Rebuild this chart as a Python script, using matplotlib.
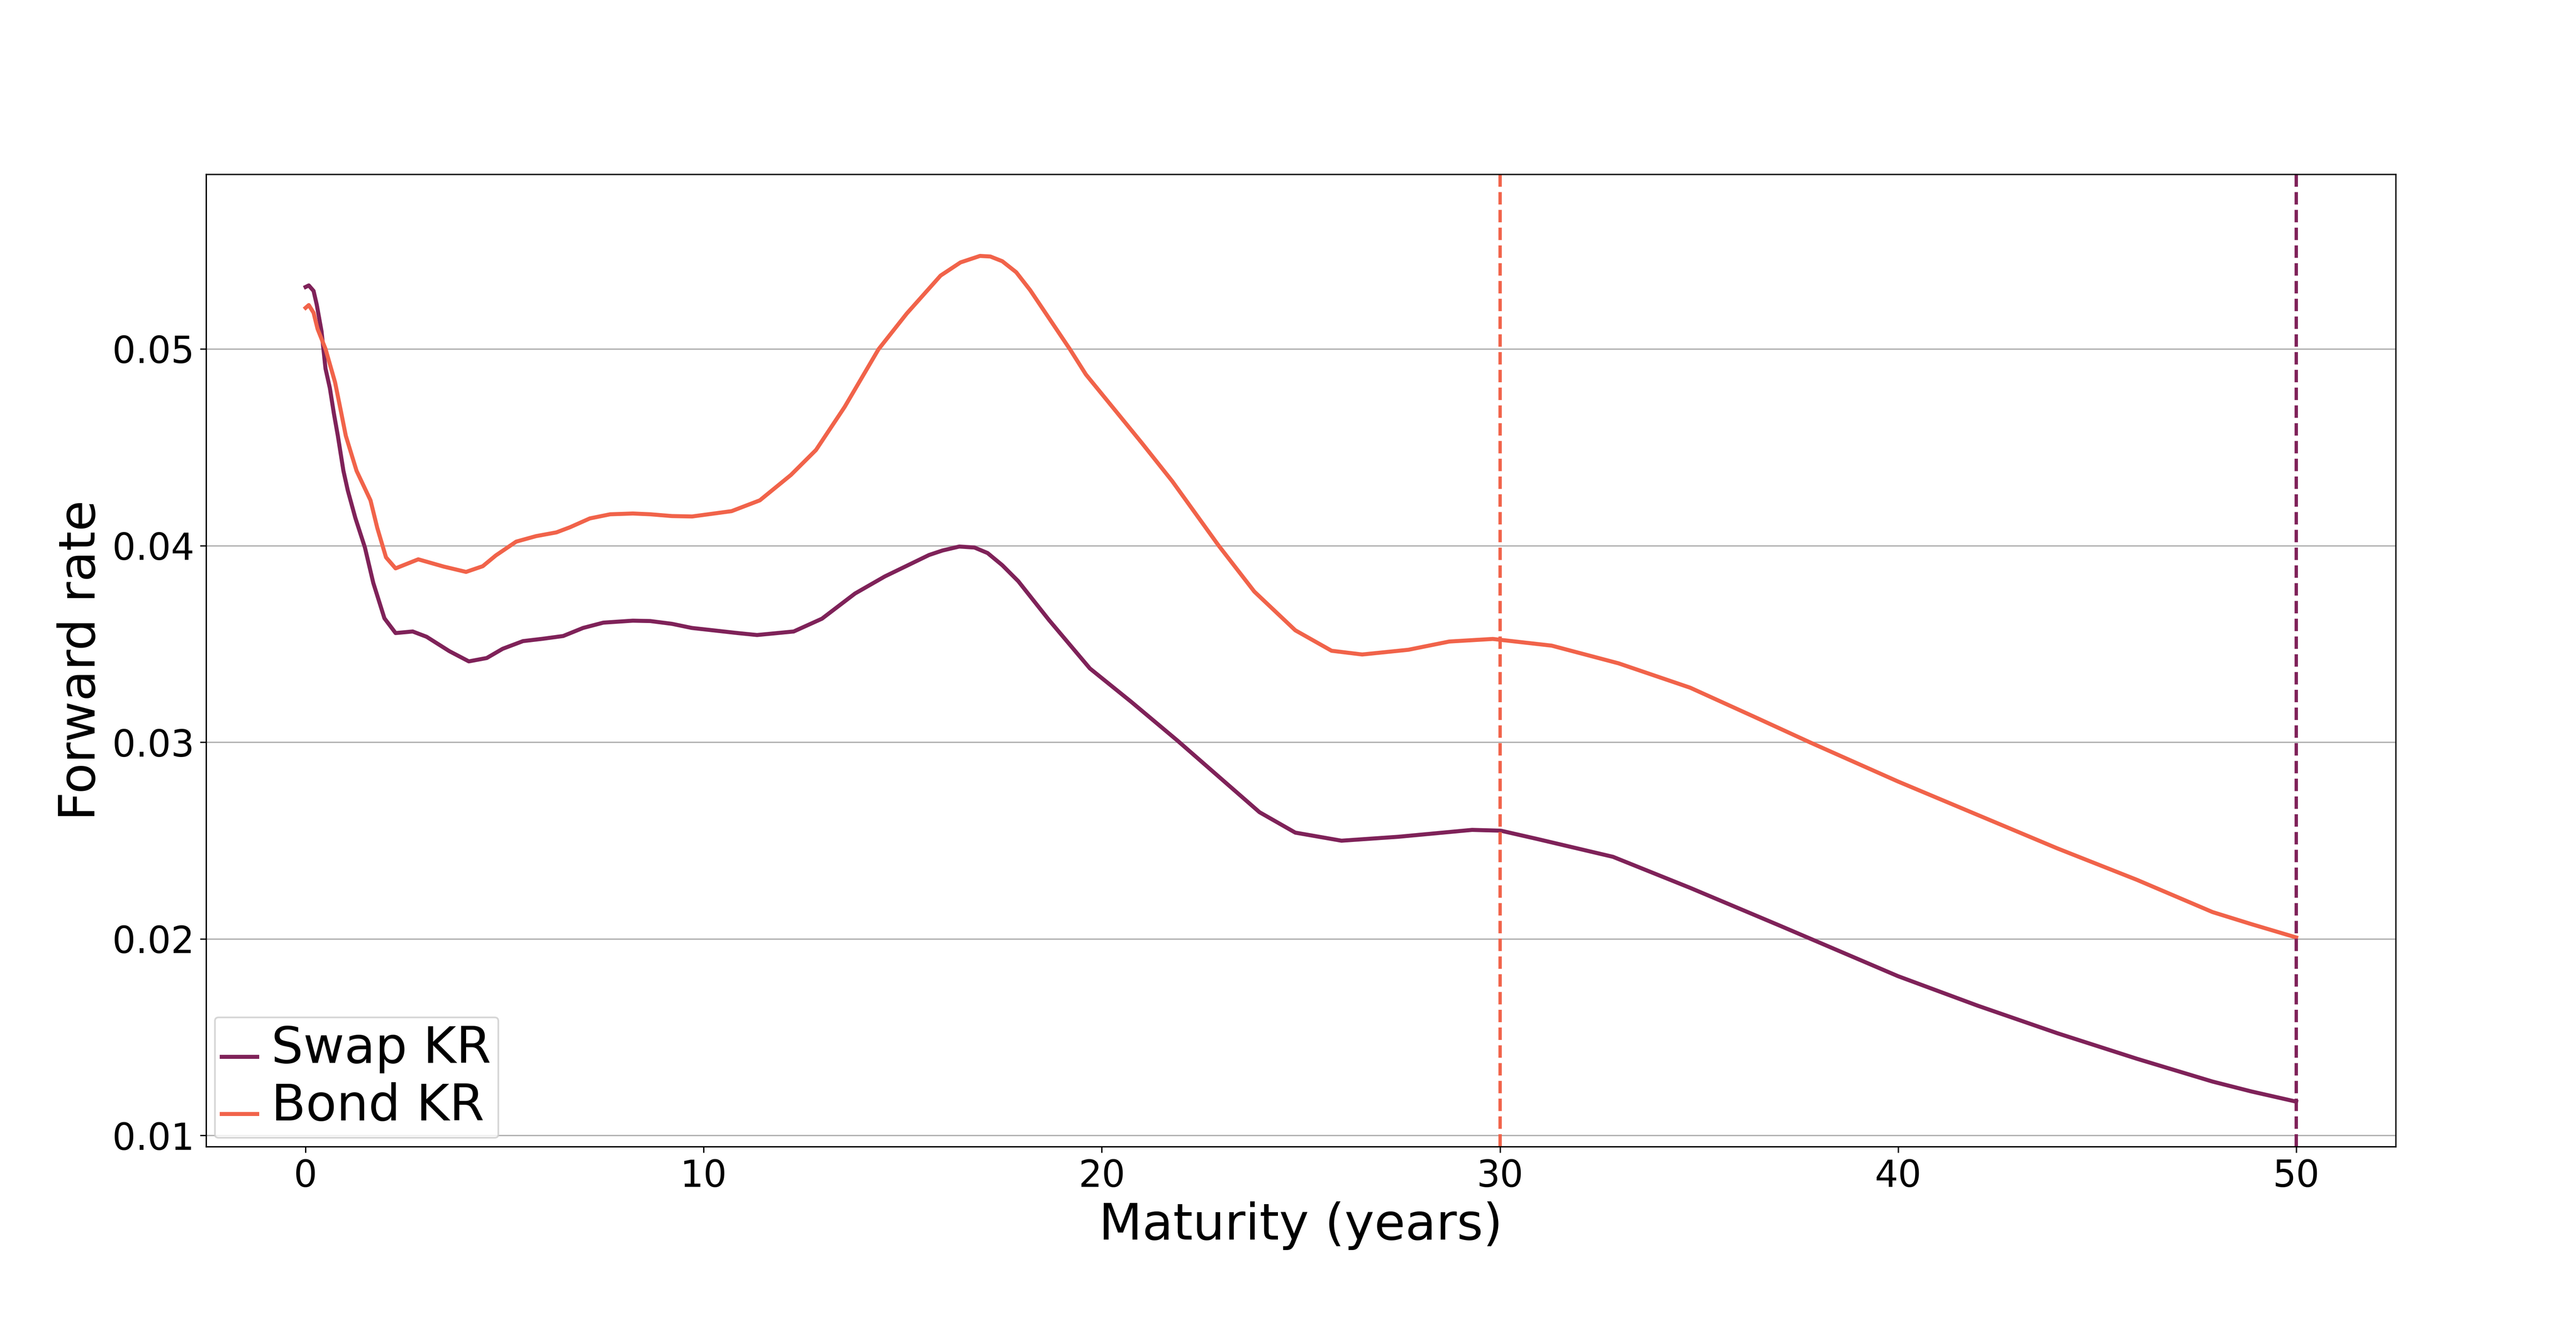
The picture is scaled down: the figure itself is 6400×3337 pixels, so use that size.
import matplotlib
matplotlib.use("Agg")
import matplotlib.pyplot as plt

swap_maturity = [0.0, 0.08, 0.2, 0.28, 0.4, 0.5, 0.61, 0.71, 0.81, 0.95, 1.06, 1.25, 1.49, 1.7,
                 1.98, 2.26, 2.69, 3.04, 3.61, 4.1, 4.55, 4.95, 5.46, 5.96, 6.47, 6.97, 7.48,
                 8.22, 8.66, 9.2, 9.7, 10.85, 11.34, 12.26, 12.97, 13.8, 14.55, 15.66, 16.0,
                 16.42, 16.8, 17.13, 17.5, 17.9, 18.67, 19.7, 20.74, 21.9, 22.93, 23.96, 24.86,
                 26.02, 27.45, 29.3, 30.02, 30.91, 32.84, 34.78, 37.03, 40.0, 42.0, 44.0, 46.0,
                 47.9, 48.87, 50.0]
swap_rate = [0.05315, 0.05323, 0.05295, 0.05225, 0.0509, 0.0490, 0.0480, 0.04672, 0.04558,
             0.0438, 0.0428, 0.0414, 0.0399, 0.0381, 0.0363, 0.03555, 0.03563, 0.03536,
             0.03463, 0.03411, 0.03428, 0.03475, 0.03514, 0.03526, 0.0354, 0.03581, 0.03608,
             0.03618, 0.03616, 0.03602, 0.03581, 0.03555, 0.03545, 0.03563, 0.03628, 0.03756,
             0.03843, 0.03952, 0.03975, 0.03995, 0.0399, 0.03962, 0.03900, 0.03819, 0.03622,
             0.03375, 0.03205, 0.03008, 0.02826, 0.02644, 0.0254, 0.02499, 0.02519, 0.02554,
             0.0255, 0.02509, 0.02417, 0.02259, 0.02067, 0.0181, 0.0166, 0.0152, 0.0139,
             0.01274, 0.01224, 0.01172]

bond_maturity = [0.0, 0.08, 0.2, 0.3, 0.5, 0.74, 0.88, 1.01, 1.28, 1.63, 1.8, 2.02, 2.26, 2.83,
                 3.47, 4.03, 4.45, 4.78, 5.29, 5.79, 6.3, 6.64, 7.14, 7.65, 8.22, 8.66, 9.2,
                 9.71, 10.7, 11.41, 12.19, 12.82, 13.54, 14.39, 15.1, 15.95, 16.45, 16.94, 17.2,
                 17.5, 17.85, 18.2, 19.2, 19.6, 21.0, 21.77, 22.93, 23.83, 24.86, 25.77, 26.54,
                 27.7, 28.73, 29.82, 31.3, 32.98, 34.78, 36.39, 37.8, 40.0, 42.0, 44.0, 46.0,
                 47.9, 48.87, 50.0]
bond_rate = [0.05209, 0.05223, 0.05184, 0.05102, 0.0500, 0.0483, 0.0469, 0.04558, 0.0438,
             0.0423, 0.0409, 0.0394, 0.03884, 0.0393, 0.03893, 0.03866, 0.03895, 0.0395, 0.0402,
             0.04048, 0.04067, 0.04093, 0.04138, 0.04159, 0.04163, 0.04159, 0.0415, 0.04148,
             0.04175, 0.0423, 0.04359, 0.04486, 0.04705, 0.04998, 0.0518, 0.05373, 0.0544,
             0.05473, 0.0547, 0.05446, 0.0539, 0.05299, 0.04998, 0.0487, 0.04523, 0.04327,
             0.04001, 0.03766, 0.03569, 0.03465, 0.03446, 0.0347, 0.03512, 0.03525, 0.03491,
             0.03401, 0.03277, 0.03129, 0.02998, 0.0280, 0.0263, 0.0246, 0.0230, 0.02136,
             0.02075, 0.02007]

swap_label = "Swap KR"
bond_label = "Bond KR"
swap_color = "#7f2259"
bond_color = "#f1634a"
swap_cutoff = 50
bond_cutoff = 30
x_ticks = [0, 10, 20, 30, 40, 50]
y_ticks = [0.01, 0.02, 0.03, 0.04, 0.05]

fig = plt.figure(figsize=(6400 / 300, 3337 / 300), dpi=300)
ax = fig.add_subplot(111)
fig.subplots_adjust(left=0.08, right=0.93, bottom=0.1462, top=0.8702)

ax.plot(swap_maturity, swap_rate, color=swap_color, lw=2.4, label=swap_label)
ax.plot(bond_maturity, bond_rate, color=bond_color, lw=2.4, label=bond_label)
ax.axvline(bond_cutoff, color=bond_color, ls="--", lw=2)
ax.axvline(swap_cutoff, color=swap_color, ls="--", lw=2)

ax.set_xlim(-2.5, 52.5)
ax.set_ylim(0.00943, 0.05888)
ax.set_xticks(x_ticks)
ax.set_yticks(y_ticks)
ax.tick_params(labelsize=22)
ax.grid(axis="y", color="#b0b0b0", lw=0.8)
ax.set_axisbelow(True)

ax.set_xlabel("Maturity (years)", fontsize=30)
ax.set_ylabel("Forward rate", fontsize=30)

leg = ax.legend(loc="lower left", fontsize=10.5)
for t in leg.get_texts():
    t.set_fontsize(30)

fig.savefig("out.png", dpi=300)
